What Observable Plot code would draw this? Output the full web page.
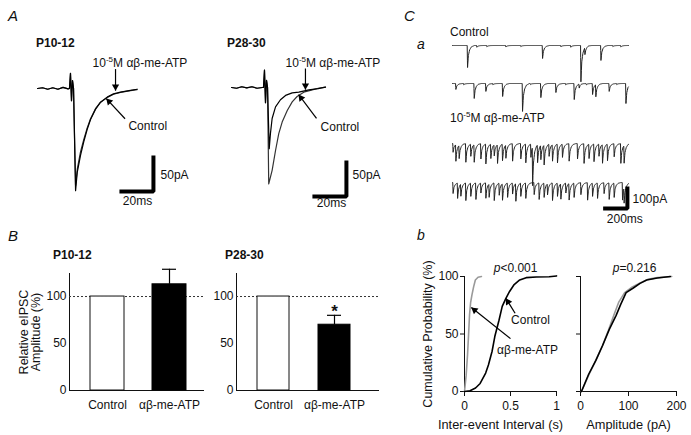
<!DOCTYPE html>
<html><head><meta charset="utf-8">
<script src="https://cdn.jsdelivr.net/npm/d3@7"></script>
<script src="https://cdn.jsdelivr.net/npm/@observablehq/plot@0.6"></script>
<style>
body{margin:0;background:#fff;}
#fig{position:relative;width:691px;height:435px;font-family:"Liberation Sans",Arial,Helvetica,sans-serif;overflow:hidden;background:#fff;color:#111}
#fig svg{position:absolute;left:0;top:0;}
.lbl{position:absolute;font-size:12px;white-space:nowrap;line-height:12px}
.lbl sup{font-size:8px;vertical-align:5px;line-height:0}
</style></head><body><div id="fig"></div>
<script>
// ================= DATA =================
// Panel A: averaged eIPSC traces, [time (ms), current (pA)]
const a1Control = [[0,0],[3,1],[6,-1],[9,1],[12,-1],[15,1.5],[18,-0.5],[18.8,0],[19.4,21],[20,-17],[20.6,11],[21.2,0],[22.4,-135],[23.4,-112],[25.3,-88],[27.2,-71],[29.2,-55],[31.2,-42],[34.1,-28],[37.1,-19],[41,-12.5],[44.7,-8],[48.8,-5.5],[54.7,-3],[58.6,-1.5]];
const a1Atp     = [[0,0],[3,1],[6,-1],[9,1],[12,-1],[15,1.5],[18,-0.5],[18.8,0],[19.4,21],[20,-17],[20.6,11],[21.2,0],[22.4,-142],[23.4,-116],[25.3,-93],[27.2,-74],[29.2,-57],[31.2,-43],[34.1,-29],[37.1,-19],[41,-12],[44.7,-7.5],[48.8,-5],[54.7,-2.5],[58.6,-1]];
const a2Control = [[0,0],[3,-1],[6,1],[9,-0.5],[12,1],[15,-1],[18.2,0],[18.8,0],[19.4,24],[20,-21],[20.6,10],[21.2,0],[21.9,-134],[23.9,-115],[25.9,-87.5],[27.8,-64],[29.8,-48],[32.8,-32],[35.7,-20],[38.6,-12.5],[42.5,-6.5],[47.5,-3.2],[51,-1],[55.3,0.4]];
const a2Atp     = [[0,0],[3,-1],[6,1],[9,-0.5],[12,1],[15,-1],[18.2,0],[18.8,0],[19.4,24],[20,-21],[20.6,10],[21.2,0],[22.2,-85],[22.9,-64],[23.9,-43],[25.9,-27],[28.8,-17],[31.8,-11],[35.7,-7.4],[39.6,-6.5],[45.5,-3.2],[51,-1.5],[55.3,0.4]];
const scaleA = {ms: 20, pA: 50};

// Panel B: relative eIPSC amplitude (%)
const bConditions = ["Control", "αβ-me-ATP"];
const bP10 = [100, 113];
const bP10Sem = [0, 16];
const bP28 = [100, 70];
const bP28Sem = [0, 10];
const bTicks = [0, 50, 100];

// Panel C a: sIPSC events per sweep (onset ms, amplitude pA)
const ctl1Times = [121, 198, 280, 437, 560, 739, 890, 972, 1055, 1088, 1220, 1318, 1384];
const ctl1Amps  = [100,   8,   6,   7,   5,  59,   6,   8,  165,   32,   68,    5,    7];
const ctl2Times = [25, 90, 176, 272, 330, 410, 574, 640, 725, 849, 930, 1000, 1041, 1100, 1151, 1178, 1288, 1350, 1426];
const ctl2Amps  = [27,  6,  68,  36,   6,  59, 127,   5,  64,  41,   6,   73,   18,    6,   50,   55,   36,    5,   91];
const atp1Times = [2, 25, 52, 107, 148, 176, 231, 272, 313, 341, 368, 409, 437, 492, 560, 601, 643, 657, 698, 725, 752, 793, 821, 862, 903, 958, 1027, 1081, 1122, 1163, 1204, 1233, 1274, 1329, 1384, 1411];
const atp1Amps  = [40, 75, 60, 85, 55, 80, 70, 90, 65, 50, 85, 75, 60, 80, 70, 85, 60, 175, 80, 65, 90, 55, 75, 85, 60, 80, 70, 90, 65, 80, 55, 85, 75, 60, 90, 80];
const atp2Times = [2, 39, 66, 107, 148, 190, 231, 272, 299, 341, 382, 409, 451, 492, 519, 560, 601, 670, 711, 752, 780, 821, 862, 890, 931, 958, 999, 1055, 1110, 1151, 1192, 1246, 1288, 1329, 1398, 1411];
const atp2Amps  = [50, 70, 55, 80, 60, 75, 45, 70, 60, 80, 55, 75, 65, 50, 80, 60, 70, 55, 75, 65, 50, 80, 60, 70, 45, 75, 65, 55, 80, 60, 70, 50, 75, 65, 80, 70];
const sweepMs = 1450;
const scaleC = {ms: 200, pA: 100};

// Panel C b: cumulative probability (%)
const ieiCtlX = [0, 0.06, 0.12, 0.17, 0.23, 0.26, 0.30, 0.33, 0.375, 0.41, 0.45, 0.49, 0.54, 0.60, 0.67, 0.78, 0.92, 1.0];
const ieiCtlY = [0, 0.6, 3, 7, 16, 23, 35, 48, 62, 74, 81, 87, 93, 97, 99, 99.5, 99.8, 100.5];
const ieiAtpX = [0, 0.018, 0.033, 0.044, 0.055, 0.066, 0.081, 0.099, 0.118, 0.147, 0.184];
const ieiAtpY = [0, 14, 32, 49, 67, 77, 84, 91, 97, 99.4, 100];
const ampCtlX = [2, 17, 32, 46, 60, 74, 84, 95, 110, 124, 138, 160, 187];
const ampCtlY = [0, 15, 27, 40, 54, 66, 76, 86, 90, 94, 97, 98.7, 100];
const ampAtpX = [2, 18, 32, 46, 58, 70, 80, 92, 108, 122, 140, 160, 190];
const ampAtpY = [0, 15, 27, 40, 53, 67, 78, 86, 91, 94, 97.5, 99, 100];
const ieiTicks = [0, 0.5, 1];
const ampTicks = [0, 100, 200];
const probTicks = [0, 50, 100];

const ATP_LABEL = "10-5M αβ-me-ATP";

// ================= LAYOUT =================
const W = 691, H = 435;
const FONT = '"Liberation Sans", Arial, Helvetica, sans-serif';
const fig = document.getElementById("fig");

function panel(box, opts) {
  const svg = Plot.plot({
    width: W, height: H,
    marginLeft: box[0], marginRight: W - box[1], marginTop: box[2], marginBottom: H - box[3],
    style: {background: "transparent", fontFamily: FONT, fontSize: "12px", color: "#111", overflow: "visible"},
    ...opts
  });
  // superscript for the drug label
  d3.select(svg).selectAll("text").filter(function(){ return this.textContent === ATP_LABEL; }).each(function(){
    const t = d3.select(this); t.text(null);
    t.append("tspan").text("10");
    t.append("tspan").attr("dy", -5).attr("font-size", 8).text("-5");
    t.append("tspan").attr("dy", 5).text("M αβ-me-ATP");
  });
  fig.appendChild(svg);
  return svg;
}

function html(text, x, y, css) {
  const s = document.createElement("span");
  s.className = "lbl"; s.innerHTML = text;
  s.style.left = x + "px"; s.style.top = y + "px";
  if (css) s.style.cssText += css;
  fig.appendChild(s);
}

const pairs = (xs, ys) => xs.map((x, i) => [x, ys[i]]);
const bar = (corner, sx, sy) => [[corner[0] - sx, corner[1]], corner, [corner[0], corner[1] + sy]];

// arrows with filled triangular heads; sx, sy = pixels per data unit
function arrowMarks(arrows, sx, sy) {
  const back = 4;
  const heads = arrows.map(([x1, y1, x2, y2]) => {
    const dxp = (x2 - x1) * sx, dyp = -(y2 - y1) * sy, L = Math.hypot(dxp, dyp);
    return {x: x2 - (dxp / L) * back / sx, y: y2 + (dyp / L) * back / sy, a: Math.atan2(dxp, -dyp) * 180 / Math.PI};
  });
  return [
    Plot.link(arrows, {x1: d => d[0], y1: d => d[1], x2: d => d[2], y2: d => d[3], stroke: "#000", strokeWidth: 1.2}),
    Plot.dot(heads, {x: "x", y: "y", rotate: "a", symbol: "triangle", r: 2.7, fill: "#000", stroke: "none"})
  ];
}

// ---------- Panel A ----------
function panelA(box, ctl, atp, ann) {
  panel(box, {
    x: {domain: [0, 75], axis: null},
    y: {domain: [-160, 50], axis: null},
    marks: [
      Plot.line(ctl, {stroke: "#333", strokeWidth: 1.2}),
      Plot.line(atp, {stroke: "#000", strokeWidth: 1.2}),
      Plot.line(bar(ann.corner, scaleA.ms, scaleA.pA), {stroke: "#000", strokeWidth: 4, strokeLinejoin: "miter", strokeLinecap: "butt"}),
      Plot.text([scaleA.pA + "pA"], {x: ann.pA[0], y: ann.pA[1], textAnchor: "start"}),
      Plot.text([scaleA.ms + "ms"], {x: ann.ms[0], y: ann.ms[1]}),
      Plot.text([ATP_LABEL], {x: ann.atp[0], y: ann.atp[1], textAnchor: "start"}),
      Plot.text(["Control"], {x: ann.ctl[0], y: ann.ctl[1], textAnchor: "start"}),
      ...arrowMarks([ann.atpArrow, ann.ctlArrow], 1.7, 0.72)
    ]
  });
}
panelA([37, 164.5, 52, 203.2], a1Control, a1Atp, {
  corner: [68.2, -143], pA: [72.4, -121], ms: [58.8, -157],
  atp: [32.4, 34.7], ctl: [53.5, -52.8],
  atpArrow: [45.9, 27, 45.9, -3], ctlArrow: [51.5, -42, 40.5, -14]
});
panelA([231, 358.5, 51, 202.2], a2Control, a2Atp, {
  corner: [67.6, -151.4], pA: [71.2, -122], ms: [58.8, -161],
  atp: [31.8, 33.3], ctl: [52.4, -55.6],
  atpArrow: [43.5, 26.4, 43.5, -3], ctlArrow: [50, -43, 39.5, -10]
});

// ---------- Panel B ----------
function panelB(vals, sems, cap, ylabel) {
  const rows = bConditions.map((c, i) => ({cond: c, value: vals[i], top: vals[i] + sems[i], sem: sems[i]}));
  const errs = rows.filter(d => d.sem > 0);
  const marks = [
    Plot.ruleY([100], {stroke: "#333", strokeDasharray: "2,2", strokeWidth: 1}),
    Plot.barY(rows.filter(d => d.cond === "Control"), {x: "cond", y: "value", fill: "white", stroke: "#111", strokeWidth: 1}),
    Plot.barY(rows.filter(d => d.cond !== "Control"), {x: "cond", y: "value", fill: "#000", stroke: "#000", strokeWidth: 1}),
    Plot.ruleX(errs, {x: "cond", y1: "value", y2: "top", stroke: "#000", strokeWidth: 1.2}),
    Plot.tickY(errs, {x: "cond", y: "top", insetLeft: cap, insetRight: cap, stroke: "#000", strokeWidth: 1.2})
  ];
  if (ylabel) marks.push(Plot.text([ylabel], {frameAnchor: "left", dx: -39, rotate: -90, textAnchor: "middle", lineAnchor: "middle", lineHeight: 0.9, fontSize: 12.5}));
  return {rows, marks};
}
{
  const p = panelB(bP10, bP10Sem, 10, "Relative eIPSC\nAmplitude (%)");
  panel([69, 203, 273, 390], {
    x: {domain: bConditions, type: "band", paddingInner: 0.45, paddingOuter: 0.3, align: 0.56, tickSize: 0, tickPadding: 10, label: null, line: true},
    y: {domain: [0, 124.5], ticks: bTicks, tickSize: 0, tickPadding: 3, label: null, line: true},
    marks: p.marks
  });
}
{
  const p = panelB(bP28, bP28Sem, 9, null);
  p.marks.push(Plot.text(p.rows.filter(d => d.cond !== "Control"), {x: "cond", y: "top", text: () => "*", fontSize: 17, fontWeight: "bold", lineAnchor: "bottom", dy: 2}));
  panel([236, 378, 273, 390], {
    x: {domain: bConditions, type: "band", paddingInner: 0.475, paddingOuter: 0.4, align: 0.43, tickSize: 0, tickPadding: 10, label: null, line: true},
    y: {domain: [0, 124.5], ticks: bTicks, tickSize: 0, tickPadding: 3, label: null, line: true},
    marks: p.marks
  });
}

// ---------- Panel C a ----------
const kernelT = [0, 3, 10, 20, 35, 60];
const kernelV = [0, 1, 0.45, 0.2, 0.06, 0];
function kernel(dt) {
  if (dt < 0 || dt >= kernelT[kernelT.length - 1]) return 0;
  const i = d3.bisectRight(kernelT, dt) - 1;
  const f = (dt - kernelT[i]) / (kernelT[i + 1] - kernelT[i]);
  return kernelV[i] + f * (kernelV[i + 1] - kernelV[i]);
}
function sweep(times, amps) {
  const ts = new Set(d3.range(0, sweepMs + 1, 3));
  times.forEach(t => { ts.add(t); ts.add(t + 3); ts.add(t + 10); });
  return [...ts].filter(t => t >= 0 && t <= sweepMs).sort((a, b) => a - b)
    .map(t => [t, -d3.sum(times, (ti, k) => amps[k] * kernel(t - ti))]);
}
const pxPerMs = 176 / sweepMs, pxPerPa = 0.22;
const sweeps = [[ctl1Times, ctl1Amps, 45], [ctl2Times, ctl2Amps, 83], [atp1Times, atp1Amps, 143], [atp2Times, atp2Amps, 182]];
sweeps.forEach(([times, amps, base], i) => {
  const marks = [Plot.line(sweep(times, amps), {stroke: "#222", strokeWidth: 1})];
  if (i === 3) {
    marks.push(
      Plot.line(bar([1441, -118], scaleC.ms, scaleC.pA), {stroke: "#000", strokeWidth: 4, strokeLinejoin: "miter", strokeLinecap: "butt"}),
      Plot.text([scaleC.pA + "pA"], {x: 1483, y: -75, textAnchor: "start"}),
      Plot.text([scaleC.ms + "ms"], {x: 1420, y: -165})
    );
  }
  panel([452, 452 + sweepMs * pxPerMs, base - 40 * pxPerPa, base + 200 * pxPerPa], {
    x: {domain: [0, sweepMs], axis: null},
    y: {domain: [-200, 40], axis: null},
    marks
  });
});

// ---------- Panel C b ----------
panel([464, 556, 276, 391], {
  x: {domain: [0, 1], ticks: ieiTicks, tickFormat: d => String(d), tickSize: 5, tickPadding: 5, label: null, line: true},
  y: {domain: [0, 100], ticks: probTicks, tickSize: 4, tickPadding: 2, label: null, line: true},
  marks: [
    Plot.line(pairs(ieiAtpX, ieiAtpY), {stroke: "#9a9a9a", strokeWidth: 1.6}),
    Plot.line(pairs(ieiCtlX, ieiCtlY), {stroke: "#000", strokeWidth: 1.6}),
    ...arrowMarks([[0.55, 68, 0.45, 81], [0.5, 46, 0.075, 73]], 92, 1.15),
    Plot.text(["Control"], {x: 0.717, y: 61.7}),
    Plot.text(["αβ-me-ATP"], {x: 0.685, y: 35.7}),
    Plot.text(["p"], {x: 0.39, y: 107, textAnchor: "end", fontStyle: "italic"}),
    Plot.text(["<0.001"], {x: 0.39, y: 107, textAnchor: "start"}),
    Plot.text(["Inter-event Interval (s)"], {frameAnchor: "bottom", dy: 37, dx: -10, lineAnchor: "bottom", fontSize: 12.8}),
    Plot.text(["Cumulative Probability (%)"], {frameAnchor: "left", dx: -37, rotate: -90, textAnchor: "middle", lineAnchor: "middle", fontSize: 12.5})
  ]
});
panel([580, 676, 276, 391], {
  x: {domain: [0, 200], ticks: ampTicks, tickSize: 5, tickPadding: 5, label: null, line: true},
  y: {domain: [0, 100], ticks: probTicks, tickSize: 4, tickFormat: () => "", label: null, line: true},
  marks: [
    Plot.line(pairs(ampAtpX, ampAtpY), {stroke: "#9a9a9a", strokeWidth: 1.6}),
    Plot.line(pairs(ampCtlX, ampCtlY), {stroke: "#000", strokeWidth: 1.6}),
    Plot.text(["p"], {x: 81, y: 107, textAnchor: "end", fontStyle: "italic"}),
    Plot.text(["=0.216"], {x: 81, y: 107, textAnchor: "start"}),
    Plot.text(["Amplitude (pA)"], {frameAnchor: "bottom", dy: 37, lineAnchor: "bottom", fontSize: 12.8})
  ]
});

// ---------- Panel letters & titles ----------
html("A", 8, 8, "font-style:italic;font-size:15px;line-height:15px");
html("B", 8, 228, "font-style:italic;font-size:15px;line-height:15px");
html("C", 404, 8, "font-style:italic;font-size:15px;line-height:15px");
html("a", 417, 37, "font-style:italic;font-size:14px;line-height:14px");
html("b", 417, 228, "font-style:italic;font-size:14px;line-height:14px");
html("P10-12", 36, 37, "font-weight:bold");
html("P28-30", 227, 37, "font-weight:bold");
html("P10-12", 53, 249, "font-weight:bold");
html("P28-30", 225, 249, "font-weight:bold");
html("Control", 450, 26);
html("10<sup>-5</sup>M αβ-me-ATP", 450, 112);
</script></body></html>
